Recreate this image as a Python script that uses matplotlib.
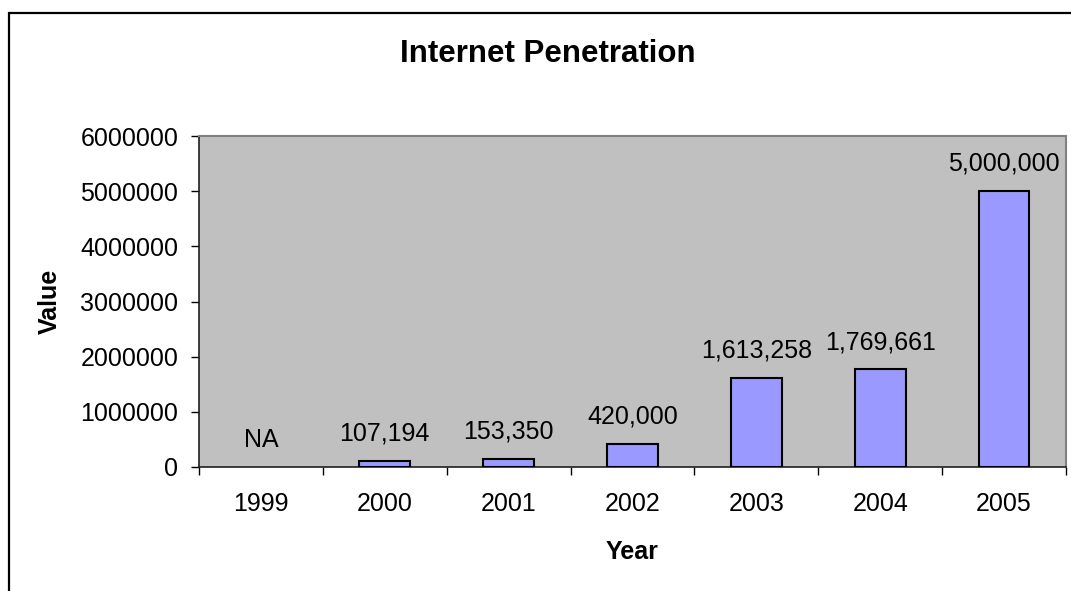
import matplotlib
matplotlib.use("Agg")
import matplotlib.pyplot as plt
from matplotlib.patches import Rectangle
import numpy as np

years = ["1999", "2000", "2001", "2002", "2003", "2004", "2005"]
values = [None, 107194, 153350, 420000, 1613258, 1769661, 5000000]
yticks = [0, 1000000, 2000000, 3000000, 4000000, 5000000, 6000000]

plt.rcParams['font.family'] = ['Liberation Sans', 'DejaVu Sans']

W, H = 1071, 591
fig = plt.figure(figsize=(W / 100, H / 100), dpi=100)
fig.patch.set_facecolor("white")

# outer chart border (extends past right/bottom edge)
fig.patches.append(Rectangle((9 / W, -0.05), 1.2, 1 - 13 / H + 0.05,
                             transform=fig.transFigure, fill=False,
                             edgecolor="black", linewidth=1.6))

ax = fig.add_axes([199 / W, 1 - 467 / H, (1066 - 199) / W, (467 - 136) / H])
ax.set_facecolor("#C0C0C0")

x = np.arange(len(years))
bx = [xi for xi, v in zip(x, values) if v is not None]
bv = [v for v in values if v is not None]
ax.bar(bx, bv, width=0.41, color="#9999FF", edgecolor="black", linewidth=1.5, zorder=3)

for xi, v in zip(x, values):
    lab = "NA" if v is None else f"{v:,}"
    ax.annotate(lab, (xi, 0 if v is None else v), xytext=(0, 11), textcoords="offset points",
                ha="center", va="bottom", fontsize=18, color="black")

ax.set_xlim(-0.5, len(years) - 0.5)
ax.set_ylim(0, 6000000)
ax.set_yticks(yticks)
ax.set_yticklabels([str(t) for t in yticks], fontsize=18)

ax.set_xticks(np.arange(len(years) + 1) - 0.5)
ax.set_xticklabels([])
ax.set_xticks(x, minor=True)
ax.set_xticklabels(years, minor=True, fontsize=18)
ax.tick_params(axis="x", which="major", direction="out", length=6, width=1, color="black")
ax.tick_params(axis="x", which="minor", length=0, pad=18)
ax.tick_params(axis="y", direction="out", length=6, width=1, color="black", pad=9)

for s in ["top", "right"]:
    ax.spines[s].set_color("#808080")
    ax.spines[s].set_linewidth(1.5)
for s in ["left", "bottom"]:
    ax.spines[s].set_color("#202020")
    ax.spines[s].set_linewidth(1.2)

fig.text(548 / W, 1 - 54 / H, "Internet Penetration", fontsize=22.5, fontweight="bold",
         ha="center", va="center")
fig.text(632 / W, 1 - 552 / H, "Year", fontsize=18, fontweight="bold", ha="center", va="center")
fig.text(50 / W, 1 - 301.5 / H, "Value", fontsize=18, fontweight="bold", ha="center", va="center",
         rotation=90)

fig.savefig("out.png", dpi=100, facecolor="white")
